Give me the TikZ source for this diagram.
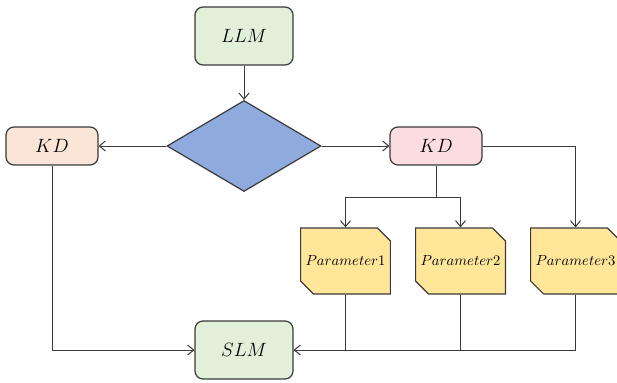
\documentclass[tikz,border=0pt]{standalone}
\usetikzlibrary{shapes.geometric,shapes.misc,arrows.meta}
\definecolor{lgreen}{HTML}{E2F0D9}
\definecolor{peach}{HTML}{FBE5D6}
\definecolor{lpink}{HTML}{FADCE1}
\definecolor{dblue}{HTML}{8FAADC}
\definecolor{lyellow}{HTML}{FFE699}
\definecolor{edge}{HTML}{3A3A3A}
\begin{document}
\begin{tikzpicture}[x=0.75pt,y=-0.75pt,
  line width=0.75pt,
  rbox/.style={draw=edge, line width=0.9pt, rounded corners=6pt, inner sep=0pt},
  big/.style={rbox, minimum width=73.5pt, minimum height=43.5pt, fill=lgreen, font=\fontsize{14}{16}\selectfont},
  kd/.style={rbox, minimum width=69pt, minimum height=28.5pt, font=\fontsize{14}{16}\selectfont},
  param/.style={draw=edge, line width=0.9pt, fill=lyellow, chamfered rectangle, chamfered rectangle corners={north east,south west}, chamfered rectangle xsep=6pt, chamfered rectangle ysep=6pt, inner sep=0pt, minimum width=66.75pt, minimum height=49.5pt, font=\fontsize{10.5}{12}\selectfont},
  link/.style={draw=edge, line width=0.75pt},
  arr/.style={link, -{Straight Barb[length=4.5pt,width=7.5pt]}}]
\useasboundingbox (0,0) rectangle (617,382);
\begin{scope}
\clip (0,0) rectangle (617,382);
\node[big] (llm) at (244,36) {$LLM$};
\node[diamond, draw=edge, line width=0.9pt, fill=dblue, aspect=1.69, minimum width=115.5pt, minimum height=68.25pt, inner sep=0pt] (dia) at (244,146) {};
\node[kd, fill=peach] (kdl) at (52,146) {$KD$};
\node[kd, fill=lpink] (kdr) at (436,146) {$KD$};
\node[param] (p1) at (345.5,261) {$Parameter1$};
\node[param] (p2) at (460.5,261) {$Parameter2$};
\node[param] (p3) at (575.5,261) {$Parameter3$};
\node[big] (slm) at (244,350) {$SLM$};
\coordinate (split) at (436,197);

\draw[arr] (llm) -- (dia);
\draw[arr] (dia) -- (kdl);
\draw[arr] (dia) -- (kdr);
\draw[link] (kdr) -- (split);
\draw[arr] (split) -| (p1);
\draw[arr] (split) -| (p2);
\draw[arr] (kdr) -| (p3);
\draw[arr] (kdl) |- (slm);
\draw[arr] (p3) |- (slm);
\draw[link] (p1.south) -- (p1.south |- slm);
\draw[link] (p2.south) -- (p2.south |- slm);
\end{scope}
\end{tikzpicture}
\end{document}
